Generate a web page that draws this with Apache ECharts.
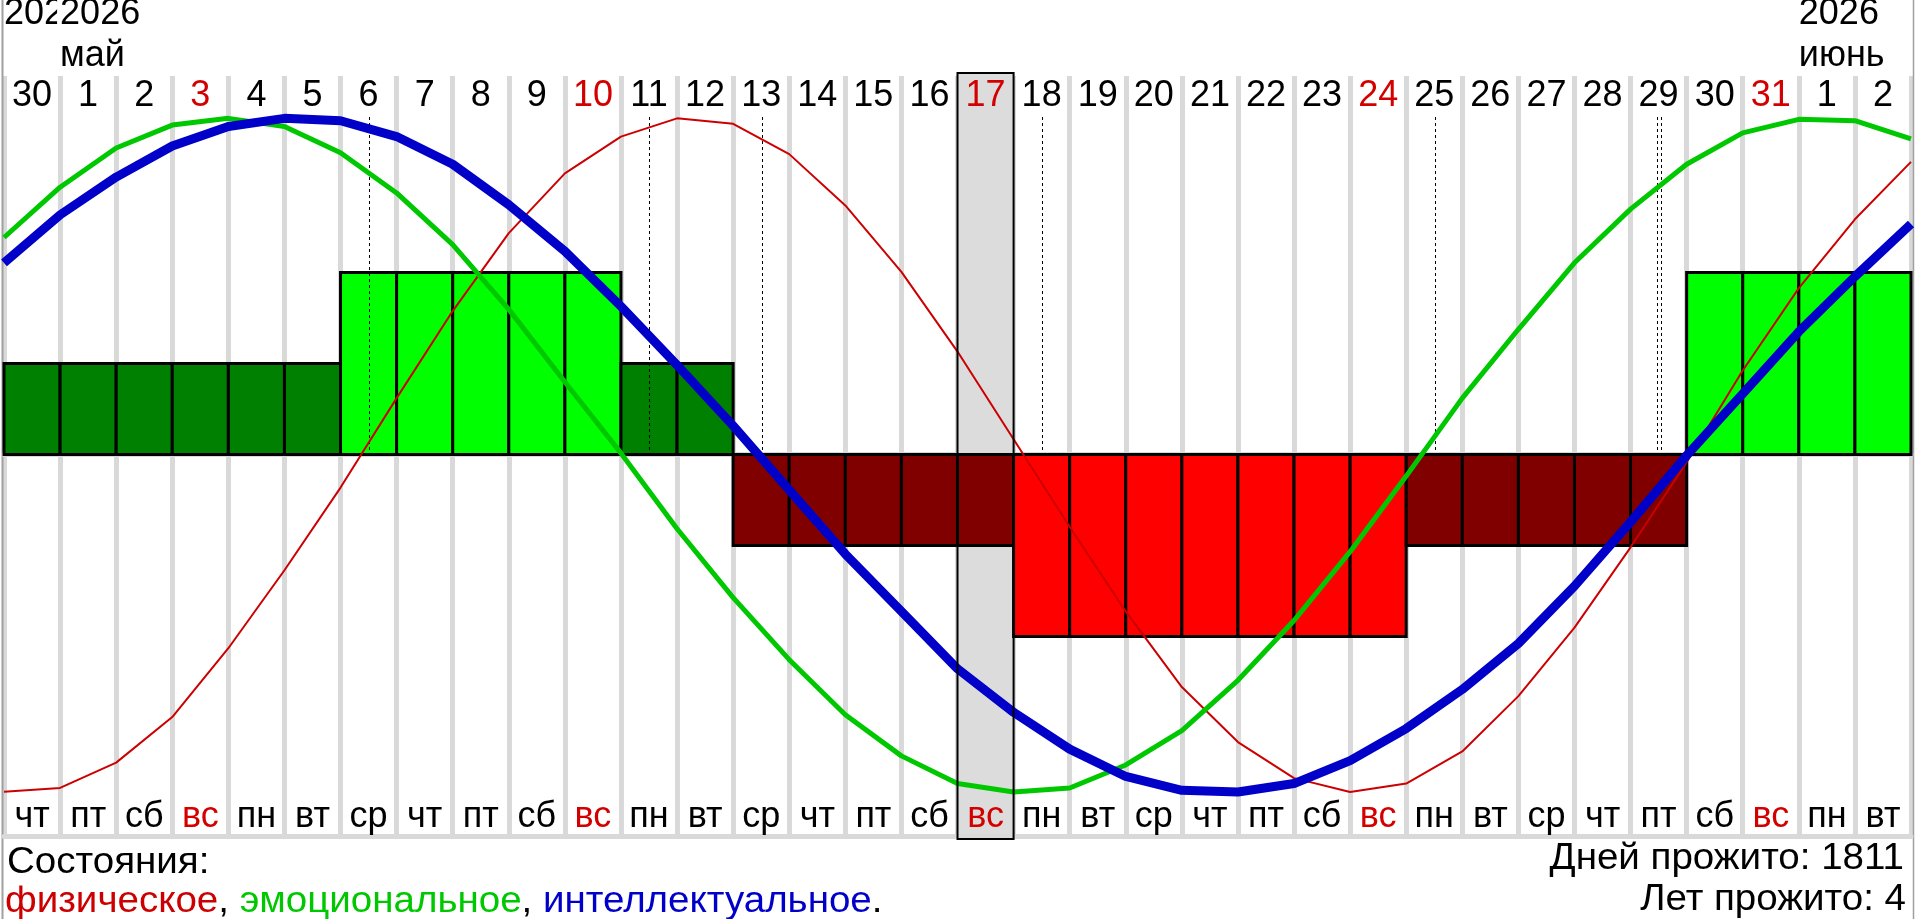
<!doctype html>
<meta charset="utf-8">
<style>
  html, body { margin: 0; padding: 0; width: 100%; height: 100%; background: #fff; }
  #chart { width: 100%; height: 100%; }
</style>
<script src="https://cdn.jsdelivr.net/npm/echarts@6/dist/echarts.min.js"></script>

<div id="chart"></div>

<script>
  // 30 апреля .. 2 июня 2026
  const days = ['30', '1', '2', '3', '4', '5', '6', '7', '8', '9', '10', '11', '12', '13', '14', '15', '16',
                '17', '18', '19', '20', '21', '22', '23', '24', '25', '26', '27', '28', '29', '30', '31', '1', '2'];
  const weekdays = ['чт', 'пт', 'сб', 'вс', 'пн', 'вт', 'ср', 'чт', 'пт', 'сб', 'вс', 'пн', 'вт', 'ср', 'чт', 'пт', 'сб',
                    'вс', 'пн', 'вт', 'ср', 'чт', 'пт', 'сб', 'вс', 'пн', 'вт', 'ср', 'чт', 'пт', 'сб', 'вс', 'пн', 'вт'];
  const sundays = ['3', '10', '17', '24', '31'];
  const selectedDay = 17;

  // values at the start of each day (35 points), percent
  const physical = [-99.9, -98.8, -91.3, -77.8, -57.4, -34.3, -9.8, 16.7, 42.5, 65.6, 83.3, 94.2, 99.6, 98, 89, 73.8, 54.1,
                    30.5, 4.5, -21.4, -46.5, -68.9, -85.2, -95.9, -100, -97.5, -88, -71.6, -51.3, -27.5, -2.3, 24.9, 49.3, 69.7, 86.7];
  const emotional = [64.3, 79.2, 90.8, 97.6, 99.6, 97.2, 89.4, 77.5, 62.2, 43, 21.5, 0.4, -22, -42.4, -60.8, -77.1, -89.3,
                     -97.5, -100, -98.8, -92, -81.8, -66.9, -49.2, -28.8, -6.4, 16.7, 37.1, 56.8, 72.7, 86, 95.3, 99.3, 98.9, 93.5];
  const intellectual = [56.8, 71, 82.2, 91.4, 97.2, 99.6, 98.9, 94.2, 86, 74, 60.2, 43.9, 26.5, 8.5, -10.5, -29.5, -46.5,
                        -63.5, -76.4, -87.3, -95.4, -99.5, -100, -97.5, -90.7, -81.2, -69.6, -56, -39, -20, -0.3, 18, 36.4, 52.7, 68.3];

  // state per day: +2 / +1 / -1 / -2
  const states = [1, 1, 1, 1, 1, 1, 2, 2, 2, 2, 2, 1, 1, -1, -1, -1, -1, -1, -2, -2, -2, -2, -2, -2, -2,
                  -1, -1, -1, -1, -1, 2, 2, 2, 2];

  // critical-day markers (day position)
  const critical = [6.51, 11.5, 13.52, 18.51, 25.51, 29.48, 29.54];

  const FONT = '"Liberation Sans", Arial, sans-serif';
  const FS = 36;
  const WIDE = 1.07;   // the original font runs a little wider
  const RED_TEXT = '#d40000';
  const stateColor = { '2': '#00ff00', '1': '#008000', '-1': '#800000', '-2': '#ff0000' };

  let chart = echarts.init(document.getElementById('chart'));

  const pts = arr => arr.map((v, i) => [i, v]);

  chart.setOption({
    animation: false,
    grid: { left: 4, right: 9, top: 76, bottom: 83 },
    xAxis: [
      {
        type: 'value', min: 0, max: 34, interval: 1, z: 0,
        axisLine: { show: false }, axisTick: { show: false }, axisLabel: { show: false },
        splitLine: { show: true, lineStyle: { color: '#d9d9d9', width: 5 } }
      },
      {
        type: 'category', position: 'top', data: days, boundaryGap: true, z: 2,
        axisLine: { lineStyle: { color: '#d9d9d9', width: 5 } },
        axisTick: { show: false },
        axisLabel: {
          inside: true, interval: 0, margin: 20, verticalAlign: 'middle',
          fontSize: FS, fontFamily: FONT,
          color: v => sundays.includes(v) ? RED_TEXT : '#000'
        }
      },
      {
        type: 'category', position: 'bottom', data: weekdays, boundaryGap: true, z: 2,
        axisLine: { lineStyle: { color: '#d9d9d9', width: 5 } },
        axisTick: { show: false },
        axisLabel: {
          inside: true, interval: 0, margin: 19, verticalAlign: 'middle',
          fontSize: FS, fontFamily: FONT,
          color: v => v === 'вс' ? RED_TEXT : '#000'
        }
      }
    ],
    yAxis: [
      { type: 'value', min: -113.04, max: 112.15, show: false },
      { type: 'value', min: -4.192, max: 4.159, show: false }
    ],
    series: [
      {
        // selected day background
        type: 'custom', xAxisIndex: 0, yAxisIndex: 0, z: 1, silent: true,
        data: [[selectedDay]],
        renderItem: (params, api) => {
          const a = api.coord([api.value(0), 0]);
          const b = api.coord([api.value(0) + 1, 0]);
          const cs = params.coordSys;
          return { type: 'rect', shape: { x: a[0], y: cs.y - 2, width: b[0] - a[0], height: cs.height + 4 },
                   style: { fill: '#dcdcdc' } };
        }
      },
      {
        type: 'custom', xAxisIndex: 0, yAxisIndex: 1, z: 3, silent: true,
        data: states.map((s, i) => [i, s]),
        renderItem: (params, api) => {
          const i = api.value(0), s = api.value(1);
          const p0 = api.coord([i, 0]);
          const p1 = api.coord([i + 1, s]);
          return {
            type: 'rect',
            shape: { x: p0[0], y: Math.min(p0[1], p1[1]), width: p1[0] - p0[0], height: Math.abs(p1[1] - p0[1]) },
            style: { fill: stateColor[String(s)], stroke: '#000', lineWidth: 3 }
          };
        }
      },
      {
        type: 'custom', xAxisIndex: 0, yAxisIndex: 0, z: 4, silent: true,
        data: critical.map(x => [x]),
        renderItem: (params, api) => {
          const top = api.coord([api.value(0), 100]);
          const bot = api.coord([api.value(0), 0]);
          const x = Math.round(top[0]) + 0.5;
          return { type: 'line', shape: { x1: x, y1: top[1], x2: x, y2: bot[1] },
                   style: { stroke: '#000', lineWidth: 1, lineDash: [3, 3] } };
        }
      },
      {
        name: 'физическое', type: 'line', xAxisIndex: 0, yAxisIndex: 0, z: 5,
        data: pts(physical), symbol: 'none', lineStyle: { color: '#cc0000', width: 2 }
      },
      {
        name: 'эмоциональное', type: 'line', xAxisIndex: 0, yAxisIndex: 0, z: 6,
        data: pts(emotional), symbol: 'none', lineStyle: { color: '#00c800', width: 5 }
      },
      {
        name: 'интеллектуальное', type: 'line', xAxisIndex: 0, yAxisIndex: 0, z: 7,
        data: pts(intellectual), symbol: 'none', lineStyle: { color: '#0000c8', width: 9 }
      },
      {
        // selected day frame
        type: 'custom', xAxisIndex: 0, yAxisIndex: 0, z: 9, silent: true,
        data: [[selectedDay]],
        renderItem: (params, api) => {
          const a = api.coord([api.value(0), 0]);
          const b = api.coord([api.value(0) + 1, 0]);
          const cs = params.coordSys;
          return { type: 'rect', shape: { x: a[0], y: cs.y - 3, width: b[0] - a[0], height: cs.height + 6 },
                   style: { fill: null, stroke: '#000', lineWidth: 2 } };
        }
      }
    ]
  });

  // month headers anchored to day boundaries
  const px = i => chart.convertToPixel({ xAxisIndex: 0 }, i);
  const font = FS + 'px ' + FONT;
  chart.setOption({
    graphic: [
      { type: 'line', silent: true, shape: { x1: 2.5, y1: 0, x2: 2.5, y2: 919 }, style: { stroke: '#a0a0a0', lineWidth: 2 } },
      { type: 'line', silent: true, shape: { x1: 1913.5, y1: 0, x2: 1913.5, y2: 919 }, style: { stroke: '#a0a0a0', lineWidth: 1.5 } },
      { type: 'text', x: px(0), y: 14, style: { text: '2026', font: font, fill: '#000', verticalAlign: 'middle' } },
      { type: 'text', x: px(1) - 3, y: 14, style: { text: '2026', font: font, fill: '#000', verticalAlign: 'middle',
                                                      backgroundColor: '#fff', padding: [0, 0, 0, 3] } },
      { type: 'text', x: px(1), y: 56, style: { text: 'май', font: font, fill: '#000', verticalAlign: 'middle' } },
      { type: 'text', x: px(32), y: 14, style: { text: '2026', font: font, fill: '#000', verticalAlign: 'middle' } },
      { type: 'text', x: px(32), y: 56, style: { text: 'июнь', font: font, fill: '#000', verticalAlign: 'middle' } },
      { type: 'text', x: 7, y: 863, scaleX: WIDE,
        style: { text: 'Состояния:', font: font, fill: '#000', verticalAlign: 'middle' } },
      {
        type: 'text', x: 5, y: 902, scaleX: WIDE,
        style: {
          text: '{r|физическое}, {g|эмоциональное}, {b|интеллектуальное}.',
          font: font, fill: '#000', verticalAlign: 'middle',
          rich: {
            r: { fill: '#cc0000', font: font },
            g: { fill: '#00c800', font: font },
            b: { fill: '#0000c8', font: font }
          }
        }
      },
      { type: 'text', x: 1904, y: 859, scaleX: WIDE,
        style: { text: 'Дней прожито: 1811', font: font, fill: '#000', align: 'right', verticalAlign: 'middle' } },
      { type: 'text', x: 1906, y: 900, scaleX: WIDE,
        style: { text: 'Лет прожито: 4', font: font, fill: '#000', align: 'right', verticalAlign: 'middle' } }
    ]
  });
</script>
